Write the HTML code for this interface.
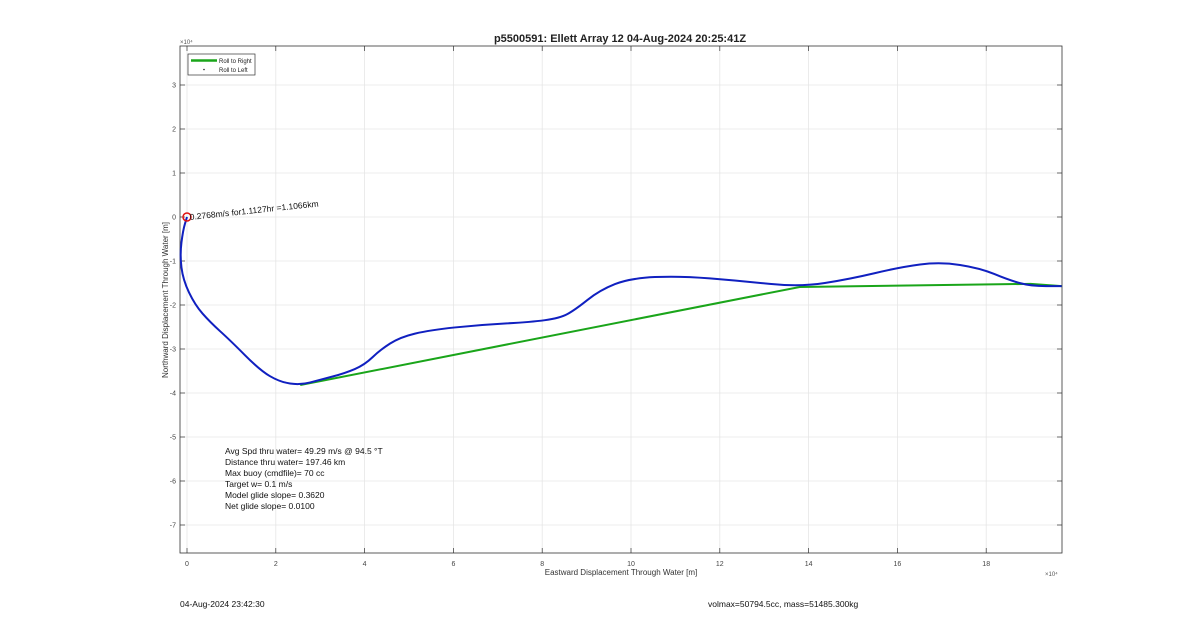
<!DOCTYPE html>
<html><head><meta charset="utf-8"><style>
body{margin:0;background:#fff;}
svg text{font-family:"Liberation Sans",sans-serif;}
</style></head><body>
<svg id="chart" width="1200" height="622" viewBox="0 0 1200 622">
<rect width="1200" height="622" fill="#fff"/>
<g id="grid"></g>
<g id="axes"></g>
<g id="series"></g>
<text x="620" y="42" text-anchor="middle" font-size="11" font-weight="bold" fill="#222">p5500591: Ellett Array 12 04-Aug-2024 20:25:41Z</text>
<text x="621" y="575" text-anchor="middle" font-size="8" fill="#333">Eastward Displacement Through Water [m]</text>
<text transform="translate(168,300) rotate(-90)" text-anchor="middle" font-size="8" fill="#333">Northward Displacement Through Water [m]</text>
<text x="180" y="44" font-size="6" fill="#555">×10⁴</text>
<text x="1045" y="576" font-size="6" fill="#555">×10⁴</text>
<g>
<rect x="188" y="54" width="67" height="21" fill="#fff" stroke="#333" stroke-width="0.7"/>
<line x1="191" y1="60.5" x2="217" y2="60.5" stroke="#1aa51a" stroke-width="2.5"/>
<text x="219" y="63" font-size="6" fill="#222">Roll to Right</text>
<circle cx="204" cy="69.5" r="0.8" fill="#222"/>
<text x="219" y="72" font-size="6" fill="#222">Roll to Left</text>
</g>
<text transform="translate(190,220) rotate(-6)" font-size="8.5" fill="#111">0.2768m/s for1.1127hr =1.1066km</text>
<g font-size="8.5" fill="#111">
<text x="225" y="454">Avg Spd thru water= 49.29 m/s @  94.5 °T</text>
<text x="225" y="465">Distance thru water= 197.46 km</text>
<text x="225" y="476">Max buoy (cmdfile)= 70 cc</text>
<text x="225" y="487">Target w= 0.1 m/s</text>
<text x="225" y="498">Model glide slope= 0.3620</text>
<text x="225" y="509">Net glide slope= 0.0100</text>
</g>
<text x="180" y="607" font-size="8.5" fill="#111">04-Aug-2024 23:42:30</text>
<text x="708" y="607" font-size="8.5" fill="#111">volmax=50794.5cc, mass=51485.300kg</text>
</svg>
<script>
const xTicks=[0,2,4,6,8,10,12,14,16,18];
const yTicks=[3,2,1,0,-1,-2,-3,-4,-5,-6,-7];
const blueX=[0,-0.09,-0.16,-0.09,0.18,0.52,0.97,1.64,2.09,2.55,3.0,3.56,4.0,4.35,4.8,5.47,6.6,7.72,8.4,8.74,9.3,9.98,11.1,12.45,13.8,14.93,16.06,16.96,17.86,18.5,19.0,19.7];
const blueY=[0,-0.3,-0.86,-1.43,-2.0,-2.39,-2.8,-3.48,-3.75,-3.82,-3.7,-3.55,-3.36,-3.02,-2.73,-2.57,-2.45,-2.39,-2.3,-2.11,-1.66,-1.39,-1.34,-1.45,-1.59,-1.41,-1.14,-1.02,-1.16,-1.43,-1.57,-1.57];
const greenX=[2.55,13.8,19.0,19.7];
const greenY=[-3.82,-1.59,-1.52,-1.57];
const L=180,R=1062,T=46,B=553;
const sx=v=>187+v*44.4, sy=v=>217-v*44;
const NS='http://www.w3.org/2000/svg';
function mk(tag,a,p){const e=document.createElementNS(NS,tag);for(const k in a)e.setAttribute(k,a[k]);p.appendChild(e);return e;}
const g=document.getElementById('grid'),ax=document.getElementById('axes'),s=document.getElementById('series');
xTicks.forEach(t=>{const x=sx(t);
 const l=mk('line',{x1:x,y1:T,x2:x,y2:B,stroke:'#e6e6e6','stroke-width':0.8},g);
 
 
 mk('line',{x1:x,y1:B,x2:x,y2:B-5,stroke:'#333','stroke-width':0.7},ax);
 mk('line',{x1:x,y1:T,x2:x,y2:T+5,stroke:'#333','stroke-width':0.7},ax);
 const tx=mk('text',{x:x,y:B+13,'text-anchor':'middle','font-size':7,fill:'#444'},ax);tx.textContent=t;
 
 });
yTicks.forEach(t=>{const y=sy(t);
 const l=mk('line',{x1:L,y1:y,x2:R,y2:y,stroke:'#e6e6e6','stroke-width':0.8},g);
 
 
 mk('line',{x1:L,y1:y,x2:L+5,y2:y,stroke:'#333','stroke-width':0.7},ax);
 mk('line',{x1:R,y1:y,x2:R-5,y2:y,stroke:'#333','stroke-width':0.7},ax);
 const tx=mk('text',{x:L-4,y:y+2.5,'text-anchor':'end','font-size':7,fill:'#444'},ax);tx.textContent=t;
 
 });
mk('rect',{x:L,y:T,width:R-L,height:B-T,fill:'none',stroke:'#333','stroke-width':0.8},ax);
const gp=mk('polyline',{points:greenX.map((v,i)=>sx(v)+','+sy(greenY[i])).join(' '),fill:'none',stroke:'#1aa51a','stroke-width':2},s);


let d='M'+sx(blueX[0])+','+sy(blueY[0]);
for(let i=1;i<blueX.length;i++){const x0=sx(blueX[i-1]),y0=sy(blueY[i-1]),x1=sx(blueX[i]),y1=sy(blueY[i]);d+=' Q'+x0+','+y0+' '+((x0+x1)/2)+','+((y0+y1)/2);}
d+=' L'+sx(blueX[blueX.length-1])+','+sy(blueY[blueY.length-1]);
const bp=mk('path',{d:d,fill:'none',stroke:'#1020c0','stroke-width':2},s);


const c=mk('circle',{cx:sx(0),cy:sy(0),r:4,fill:'none',stroke:'#e01010','stroke-width':1.5},s);


</script>
</body></html>
